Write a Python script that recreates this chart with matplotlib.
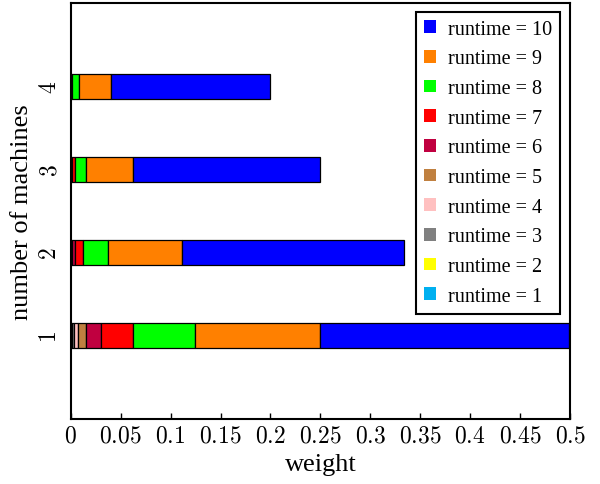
import matplotlib
matplotlib.use("Agg")
import matplotlib.pyplot as plt
import numpy as np

plt.rcParams['font.family'] = ['Liberation Serif', 'DejaVu Serif']
plt.rcParams['mathtext.fontset'] = 'cm'

machines = [1, 2, 3, 4]
runtimes = [1, 2, 3, 4, 5, 6, 7, 8, 9, 10]

# weight of each runtime (columns) for each machine count (rows)
weights = [
    [0.000488, 0.000977, 0.00195, 0.00391, 0.00781, 0.0156, 0.03125, 0.0625, 0.125, 0.25],
    [0.0000113, 0.0000339, 0.000102, 0.000305, 0.000914, 0.00274, 0.00823, 0.0247, 0.0741, 0.2222],
    [0.0000007, 0.0000029, 0.0000114, 0.0000458, 0.000183, 0.000732, 0.00293, 0.0117, 0.0469, 0.1875],
    [0.0000001, 0.0000005, 0.0000026, 0.0000128, 0.000064, 0.000256, 0.00128, 0.0064, 0.032, 0.16],
]

colors = ['#00b0f0', '#ffff00', '#808080', '#ffc0c0', '#c08040',
          '#c00040', '#ff0000', '#00ff00', '#ff8000', '#0000ff']

xticks = [0, 0.05, 0.1, 0.15, 0.2, 0.25, 0.3, 0.35, 0.4, 0.45, 0.5]
xticklabels = ['0', '0.05', '0.1', '0.15', '0.2', '0.25', '0.3', '0.35', '0.4', '0.45', '0.5']

fig = plt.figure(figsize=(6, 4.85), dpi=100)
ax = fig.add_axes([0.118, 0.134, 0.832, 0.858])

w = np.array(weights)
left = np.zeros(len(machines))
handles = []
for j, rt in enumerate(runtimes):
    h = ax.barh(machines, w[:, j], left=left, height=0.3, color=colors[j],
                edgecolor='black', linewidth=0.9, label=f'runtime = {rt}')
    handles.append(h)
    left += w[:, j]

ax.set_xlim(0, 0.5)
ax.set_ylim(0, 5)
ax.set_xticks(xticks)
ax.set_xticklabels([f'${t}$' for t in xticklabels], fontsize=17)
ax.set_yticks(machines)
ax.set_yticklabels([f'${m}$' for m in machines], fontsize=17, rotation=90, va='center')
ax.tick_params(axis='x', direction='in', length=4, width=1, pad=5)
ax.tick_params(axis='y', length=0, pad=7)
for s in ax.spines.values():
    s.set_linewidth(1.5)

ax.set_xlabel('weight', fontsize=19, labelpad=4)
ax.set_ylabel('number of machines', fontsize=19, labelpad=5)

leg = ax.legend(handles[::-1], [h.get_label() for h in handles[::-1]],
                loc='upper right', bbox_to_anchor=(1.0, 1.003), fontsize=14.5,
                handlelength=0.6, handleheight=0.6, handletextpad=0.6,
                labelspacing=0.53, borderpad=0.4, fancybox=False,
                framealpha=1, edgecolor='black')
leg.get_frame().set_linewidth(1.5)
for p in leg.get_patches():
    p.set_edgecolor('none')

fig.savefig('out.png', dpi=100)
